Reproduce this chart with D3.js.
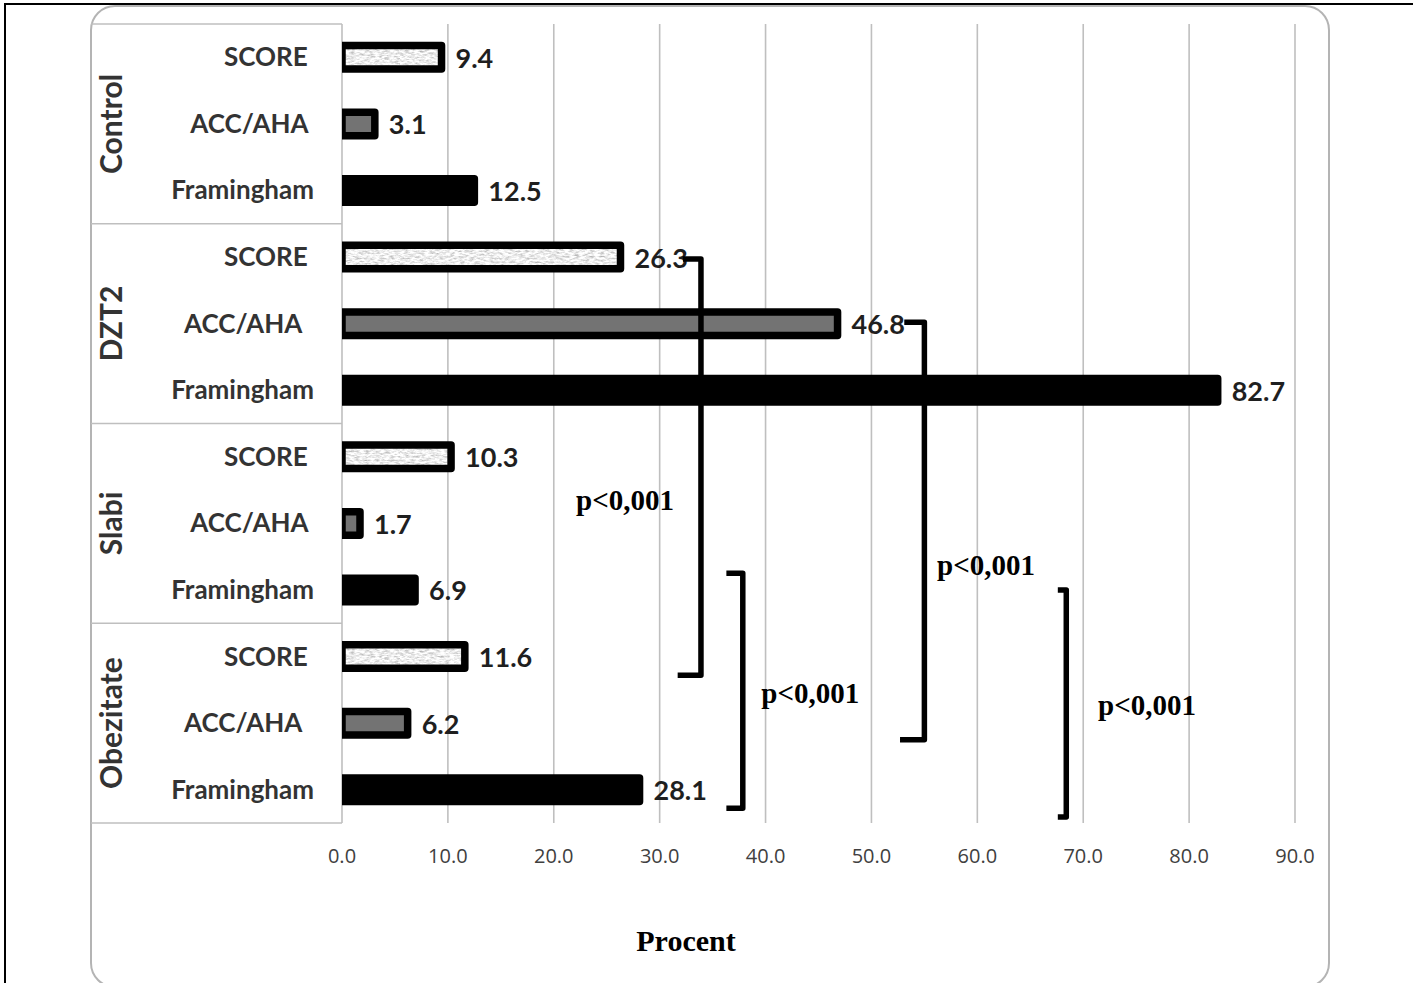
<!DOCTYPE html>
<html>
<head>
<meta charset="utf-8">
<script src="https://cdn.jsdelivr.net/npm/d3@7/dist/d3.min.js"></script>
<style>
  html, body { margin: 0; padding: 0; background: #fff; }
  svg { display: block; }
  .cat { font-family: Lato, "Open Sans", sans-serif; font-weight: 700; white-space: pre; }
</style>
</head>
<body>
<svg id="chart" width="1413" height="983"></svg>
<script>
// ---------- data ----------
const groups = ["Control", "DZT2", "Slabi", "Obezitate"];
const categories = ["SCORE", "ACC/AHA", "Framingham"];
// row labels as printed (trailing spaces reproduce the original alignment)
const rowLabels = [
  ["SCORE ", "ACC/AHA ", "Framingham"],
  ["SCORE ", "ACC/AHA  ", "Framingham"],
  ["SCORE ", "ACC/AHA ", "Framingham"],
  ["SCORE ", "ACC/AHA  ", "Framingham"]
];
const scoreValues = [9.4, 26.3, 10.3, 11.6];
const accAhaValues = [3.1, 46.8, 1.7, 6.2];
const framinghamValues = [12.5, 82.7, 6.9, 28.1];
const xTicks = [0, 10, 20, 30, 40, 50, 60, 70, 80, 90];
const xTickLabels = ["0.0", "10.0", "20.0", "30.0", "40.0", "50.0", "60.0", "70.0", "80.0", "90.0"];
const axisTitle = "Procent";

// significance brackets (x in percent units, y in row units 0..12)
const pLabel = "p<0,001";
const bracketX = [33.9, 55.0, 37.85, 68.4];
const bracketTopRow = [3.53, 4.48, 8.25, 8.50];
const bracketBottomRow = [9.78, 10.75, 11.78, 11.91];
const bracketTopFrom = [32.2, 53.1, 36.3, 67.6];
const bracketBottomFrom = [31.7, 52.7, 36.3, 67.6];
const pLabelX = [22.1, 56.2, 39.6, 71.4];
const pLabelRow = [7.30, 8.28, 10.20, 10.38];

// ---------- build rows ----------
const seriesValues = [scoreValues, accAhaValues, framinghamValues];
const rows = [];
groups.forEach((g, gi) => {
  categories.forEach((c, ci) => {
    rows.push({ key: g + "|" + c, group: g, gi, cat: c, ci,
                label: rowLabels[gi][ci], value: seriesValues[ci][gi] });
  });
});

// ---------- layout ----------
const svg = d3.select("#chart");
const plotLeft = 342, plotRight = 1295, plotTop = 24, plotBottom = 823;
const tableLeft = 91;

const x = d3.scaleLinear().domain([0, 90]).range([plotLeft, plotRight]);
const y = d3.scaleBand().domain(rows.map(r => r.key)).range([plotTop, plotBottom]).padding(0);
const yRow = d3.scaleLinear().domain([0, rows.length]).range([plotTop, plotBottom]);
const groupY = d3.scaleBand().domain(groups).range([plotTop, plotBottom]);

const defs = svg.append("defs");
const filt = defs.append("filter").attr("id", "noise")
  .attr("x", 0).attr("y", 0).attr("width", 1).attr("height", 1);
filt.append("feTurbulence").attr("type", "fractalNoise")
  .attr("baseFrequency", "0.2 0.55").attr("numOctaves", 3).attr("seed", 7).attr("result", "t");
filt.append("feColorMatrix").attr("in", "t").attr("type", "matrix")
  .attr("values", "1.1 0 0 0 0.3  1.1 0 0 0 0.3  1.1 0 0 0 0.3  0 0 0 0 1");
const pat = defs.append("pattern").attr("id", "speck")
  .attr("patternUnits", "userSpaceOnUse").attr("width", 400).attr("height", 60);
pat.append("rect").attr("width", 400).attr("height", 60).attr("fill", "#ddd").attr("filter", "url(#noise)");

defs.append("clipPath").attr("id", "plotClip")
  .append("rect").attr("x", plotLeft).attr("y", 0).attr("width", 1413 - plotLeft).attr("height", 983);

// outer black frame
svg.append("rect").attr("x", 5).attr("y", 4).attr("width", 1430).attr("height", 1000)
  .attr("fill", "none").attr("stroke", "#000").attr("stroke-width", 2);

// rounded chart frame
svg.append("rect").attr("x", tableLeft).attr("y", 6).attr("width", 1329 - tableLeft).attr("height", 981)
  .attr("rx", 24).attr("ry", 24)
  .attr("fill", "#fff").attr("stroke", "#b4b4b4").attr("stroke-width", 2);

// grid lines
svg.append("g").selectAll("line").data(xTicks.filter(t => t > 0)).join("line")
  .attr("x1", d => x(d)).attr("x2", d => x(d))
  .attr("y1", plotTop).attr("y2", plotBottom)
  .attr("stroke", "#bfbfbf").attr("stroke-width", 1.6);

// category table
const table = svg.append("g").attr("stroke", "#bfbfbf").attr("stroke-width", 1.6);
const bounds = groups.map(g => groupY(g)).concat([plotBottom]);
table.selectAll("line.h").data(bounds).join("line").attr("class", "h")
  .attr("x1", tableLeft).attr("x2", plotLeft).attr("y1", d => d).attr("y2", d => d);
table.append("line").attr("x1", plotLeft).attr("x2", plotLeft).attr("y1", plotTop).attr("y2", plotBottom);

// tick labels
svg.append("g").selectAll("text").data(xTicks).join("text")
  .attr("x", d => x(d)).attr("y", 863)
  .attr("text-anchor", "middle")
  .attr("font-family", "'Open Sans', sans-serif").attr("font-size", 20)
  .attr("fill", "#404040")
  .text((d, i) => xTickLabels[i]);

// axis title
svg.append("text").attr("x", 686).attr("y", 951).attr("text-anchor", "middle")
  .attr("font-family", "'Liberation Serif', 'Times New Roman', serif")
  .attr("font-weight", 700).attr("font-size", 30).attr("fill", "#000")
  .text(axisTitle);

// row labels
svg.append("g").selectAll("text").data(rows).join("text").attr("class", "cat")
  .attr("x", 314).attr("y", d => y(d.key) + y.bandwidth() / 2 + 9)
  .attr("text-anchor", "end").attr("font-size", 26).attr("fill", "#333")
  .text(d => d.label);

// group labels
svg.append("g").selectAll("text").data(groups).join("text").attr("class", "cat")
  .attr("transform", d => `translate(122,${groupY(d) + groupY.bandwidth() / 2}) rotate(-90)`)
  .attr("text-anchor", "middle").attr("font-size", 30).attr("fill", "#333")
  .text(d => d);

// bars
const fills = ["url(#speck)", "#737373", "#000"];
const barH = 23.5;
svg.append("g").attr("clip-path", "url(#plotClip)")
  .selectAll("rect").data(rows).join("rect")
  .attr("x", x(0))
  .attr("y", d => y(d.key) + y.bandwidth() / 2 - barH / 2)
  .attr("width", d => x(d.value) - x(0))
  .attr("height", barH)
  .attr("fill", d => fills[d.ci])
  .attr("stroke", "#000").attr("stroke-width", 7.5).attr("stroke-linejoin", "round");

// value labels
svg.append("g").selectAll("text").data(rows).join("text").attr("class", "cat")
  .attr("x", d => x(d.value) + 14)
  .attr("y", d => y(d.key) + y.bandwidth() / 2 + 10.5)
  .attr("font-size", 27).attr("fill", "#1f1f1f")
  .text(d => d.value.toFixed(1));

// brackets
const bracketData = bracketX.map((bx, i) => ({
  x: bx, top: bracketTopRow[i], bottom: bracketBottomRow[i],
  topFrom: bracketTopFrom[i], bottomFrom: bracketBottomFrom[i]
}));
svg.append("g").selectAll("path").data(bracketData).join("path")
  .attr("d", d => {
    const p = d3.path();
    p.moveTo(x(d.topFrom), yRow(d.top));
    p.lineTo(x(d.x), yRow(d.top));
    p.lineTo(x(d.x), yRow(d.bottom));
    p.lineTo(x(d.bottomFrom), yRow(d.bottom));
    return p.toString();
  })
  .attr("fill", "none").attr("stroke", "#000").attr("stroke-width", 5.5)
  .attr("stroke-linejoin", "round");

// p labels
svg.append("g").selectAll("text").data(pLabelX).join("text")
  .attr("x", d => x(d)).attr("y", (d, i) => yRow(pLabelRow[i]))
  .attr("font-family", "'Liberation Serif', 'Times New Roman', serif")
  .attr("font-weight", 700).attr("font-size", 29).attr("fill", "#000")
  .text(pLabel);
</script>
</body>
</html>
